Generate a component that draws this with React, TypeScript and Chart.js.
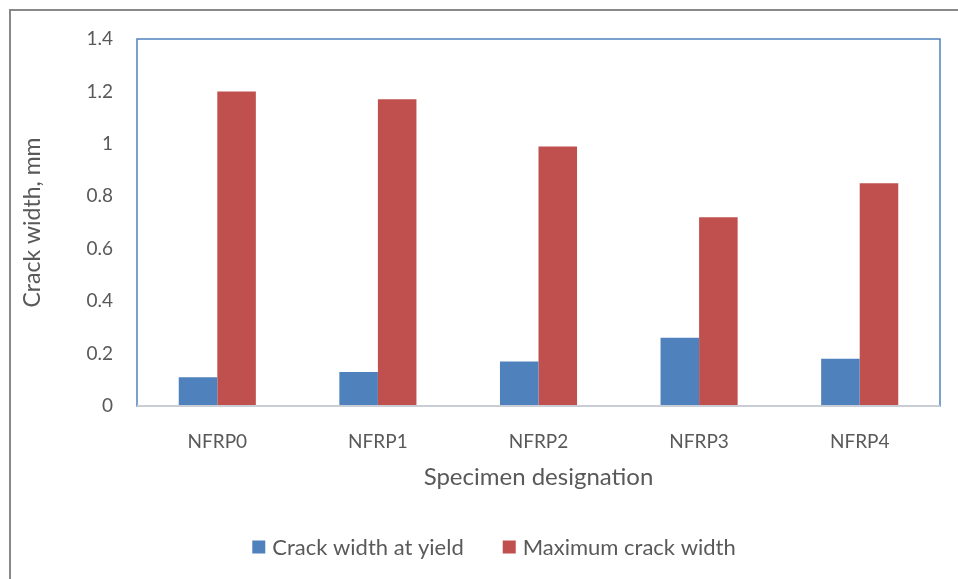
import React, { useEffect, useRef } from "react";
import { Chart, registerables } from "chart.js";

Chart.register(...registerables);

const categories = ["NFRP0", "NFRP1", "NFRP2", "NFRP3", "NFRP4"];
const yieldWidth = [0.11, 0.13, 0.17, 0.26, 0.18];
const maxWidth = [1.2, 1.17, 0.99, 0.72, 0.85];
const seriesNames = ["Crack width at yield", "Maximum crack width"];
const seriesColors = ["#4F81BD", "#C0504D"];

const FONT = "Lato, 'Open Sans', sans-serif";
const TEXT = "#595959";

const framePlugin = {
  id: "frame",
  afterDatasetsDraw(chart: any) {
    const { ctx, chartArea } = chart;
    ctx.save();
    ctx.strokeStyle = "#4F81BD";
    ctx.lineWidth = 1.5;
    ctx.strokeRect(chartArea.left, chartArea.top, chartArea.right - chartArea.left, chartArea.bottom - chartArea.top);
    ctx.strokeStyle = "#C8CDD6";
    ctx.lineWidth = 2;
    ctx.beginPath();
    ctx.moveTo(chartArea.left, chartArea.bottom);
    ctx.lineTo(chartArea.right, chartArea.bottom);
    ctx.stroke();
    ctx.restore();
  },
};

const legendPlugin = {
  id: "customLegend",
  afterDraw(chart: any) {
    const { ctx } = chart;
    const box = 13;
    const gap = 7;
    const itemGap = 39;
    const centerX = 494;
    const centerY = 547;
    ctx.save();
    ctx.font = `22px ${FONT}`;
    ctx.textBaseline = "middle";
    ctx.textAlign = "left";
    const items = chart.data.datasets.map((d: any) => ({
      label: d.label,
      color: d.backgroundColor,
      w: ctx.measureText(d.label).width,
    }));
    const total = items.reduce((s: number, it: any) => s + box + gap + it.w, 0) + itemGap * (items.length - 1);
    let x = centerX - total / 2;
    for (const it of items) {
      ctx.fillStyle = it.color;
      ctx.fillRect(x, centerY - box / 2, box, box);
      x += box + gap;
      ctx.fillStyle = TEXT;
      ctx.fillText(it.label, x, centerY + 1);
      x += it.w + itemGap;
    }
    ctx.restore();
  },
};

export default function App() {
  const ref = useRef<HTMLCanvasElement>(null);
  useEffect(() => {
    if (!ref.current) return;
    const chart = new Chart(ref.current, {
      type: "bar",
      data: {
        labels: categories,
        datasets: [
          {
            label: seriesNames[0],
            data: yieldWidth,
            backgroundColor: seriesColors[0],
            borderWidth: 0,
            categoryPercentage: 0.48,
            barPercentage: 1.0,
          },
          {
            label: seriesNames[1],
            data: maxWidth,
            backgroundColor: seriesColors[1],
            borderWidth: 0,
            categoryPercentage: 0.48,
            barPercentage: 1.0,
          },
        ],
      },
      options: {
        animation: false,
        responsive: false,
        layout: { padding: { left: 0, right: 18, top: 39, bottom: 52 } },
        plugins: {
          tooltip: { enabled: false },
          legend: { display: false },
        },
        scales: {
          x: {
            grid: { display: false, drawTicks: false, tickLength: 0 },
            border: { display: false },
            ticks: { font: { family: FONT, size: 19 }, color: TEXT, padding: 24 },
            title: {
              display: true,
              text: "Specimen designation",
              font: { family: FONT, size: 24 },
              color: TEXT,
              padding: { top: 0, bottom: 35 },
            },
            afterFit(scale: any) {
              scale.height = 121;
            },
          },
          y: {
            min: 0,
            max: 1.4,
            ticks: {
              stepSize: 0.2,
              font: { family: FONT, size: 19 },
              color: TEXT,
              padding: 24,
              callback: (v: any) => String(Math.round(Number(v) * 10) / 10),
            },
            grid: { display: false, drawTicks: false, tickLength: 0 },
            border: { display: false },
            title: {
              display: true,
              text: "Crack width, mm",
              font: { family: FONT, size: 23 },
              color: TEXT,
              padding: { top: 19, bottom: 0 },
            },
            afterFit(scale: any) {
              scale.width = 137;
            },
          },
        },
      },
      plugins: [framePlugin, legendPlugin],
    });
    return () => chart.destroy();
  }, []);
  return (
    <div style={{ position: "fixed", left: 0, top: 0, width: 958, height: 579, background: "#fff", overflow: "hidden" }}>
      <div
        style={{
          position: "absolute",
          left: 9,
          top: 9,
          width: 980,
          height: 600,
          border: "2px solid #898989",
          boxSizing: "border-box",
        }}
      />
      <canvas ref={ref} width={958} height={579} style={{ position: "absolute", left: 0, top: 0 }} />
    </div>
  );
}
